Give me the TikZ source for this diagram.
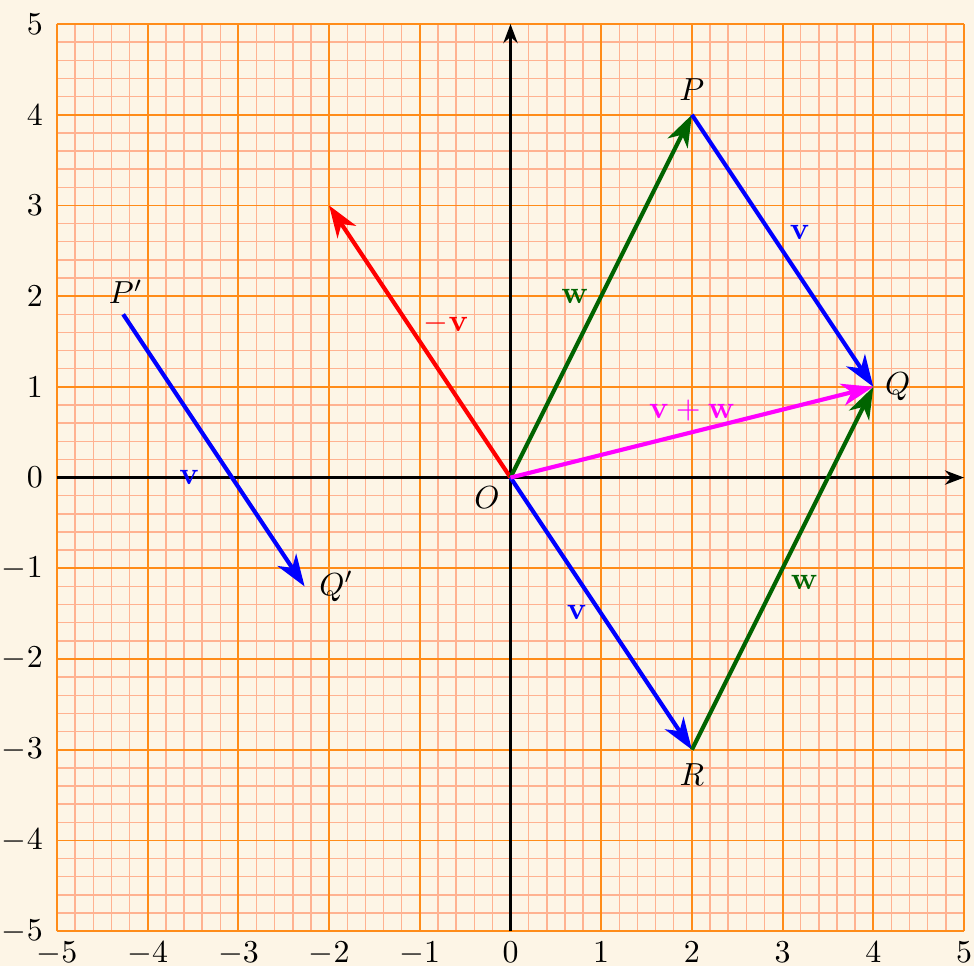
\documentclass[tikz,border=0pt]{standalone}
\usetikzlibrary{arrows.meta}
\definecolor{bgcol}{RGB}{253,245,230}
\definecolor{minorgrid}{RGB}{255,178,145}
\definecolor{majorgrid}{RGB}{255,140,25}
\definecolor{vgreen}{RGB}{0,100,0}
\definecolor{vmagenta}{RGB}{255,0,255}
\definecolor{vblue}{RGB}{0,0,255}
\definecolor{vred}{RGB}{255,0,0}
\tikzset{
  vec/.style={line width=1.3pt,-{Stealth[length=10pt,width=7pt,inset=3pt]}},
  axisline/.style={line width=0.7pt,-{Stealth[length=6pt,width=4.5pt]}},
  lbl/.style={inner sep=0pt},
  ticklbl/.style={inner sep=0pt}
}
\begin{document}
\begin{tikzpicture}
\useasboundingbox[fill=bgcol] (-5.628,-5.386) rectangle (5.11,5.265);
\foreach \i in {-25,...,25}{
  \draw[minorgrid,line width=0.45pt] (\i/5,-5) -- (\i/5,5);
  \draw[minorgrid,line width=0.45pt] (-5,\i/5) -- (5,\i/5);
}
\foreach \i in {-5,...,5}{
  \draw[majorgrid,line width=0.55pt] (\i,-5) -- (\i,5);
  \draw[majorgrid,line width=0.55pt] (-5,\i) -- (5,\i);
}
\draw[axisline] (-5,0) -- (5,0);
\draw[axisline] (0,-5) -- (0,5);
\foreach \i in {-5,...,5}{
  \node[ticklbl,anchor=north] (xt\i) at (\i,-5.11) {$\i$};
  \node[ticklbl,anchor=east] (yt\i) at (-5.15,\i) {$\i$};
}
\coordinate (O) at (0,0);
\coordinate (P) at (2,4);
\coordinate (Q) at (4,1);
\coordinate (R) at (2,-3);
\coordinate (M) at (-2,3);
\coordinate (Pp) at (-4.27,1.8);
\coordinate (Qp) at (-2.27,-1.2);
\node[lbl] (Olbl) at (-0.26,-0.22) {$O$};
\node[lbl] (Plbl) at (2,4.28) {$P$};
\node[lbl] (Qlbl) at (4.27,1.0) {$Q$};
\node[lbl] (Rlbl) at (2,-3.27) {$R$};
\node[lbl] (Pplbl) at (-4.24,2.05) {$P'$};
\node[lbl] (Qplbl) at (-1.92,-1.2) {$Q'$};
\draw[vec,vred] (O) -- node[lbl,shift={(0.29,0.2)}] (lmv) {$-\mathbf{v}$} (M);
\draw[vec,vgreen] (O) -- node[lbl,shift={(-0.29,0)}] (lw1) {$\mathbf{w}$} (P);
\draw[vec,vblue] (P) -- node[lbl,shift={(0.19,0.2)}] (lv1) {$\mathbf{v}$} (Q);
\draw[vec,vblue] (O) -- node[lbl,shift={(-0.27,0.01)}] (lv2) {$\mathbf{v}$} (R);
\draw[vec,vgreen] (R) -- node[lbl,shift={(0.24,-0.16)}] (lw2) {$\mathbf{w}$} (Q);
\draw[vec,vmagenta] (O) -- node[lbl,shift={(0,0.24)}] (lvw) {$\mathbf{v}+\mathbf{w}$} (Q);
\draw[vec,vblue] (Pp) -- node[lbl,shift={(-0.27,-0.3)}] (lv3) {$\mathbf{v}$} (Qp);
\end{tikzpicture}
\end{document}
